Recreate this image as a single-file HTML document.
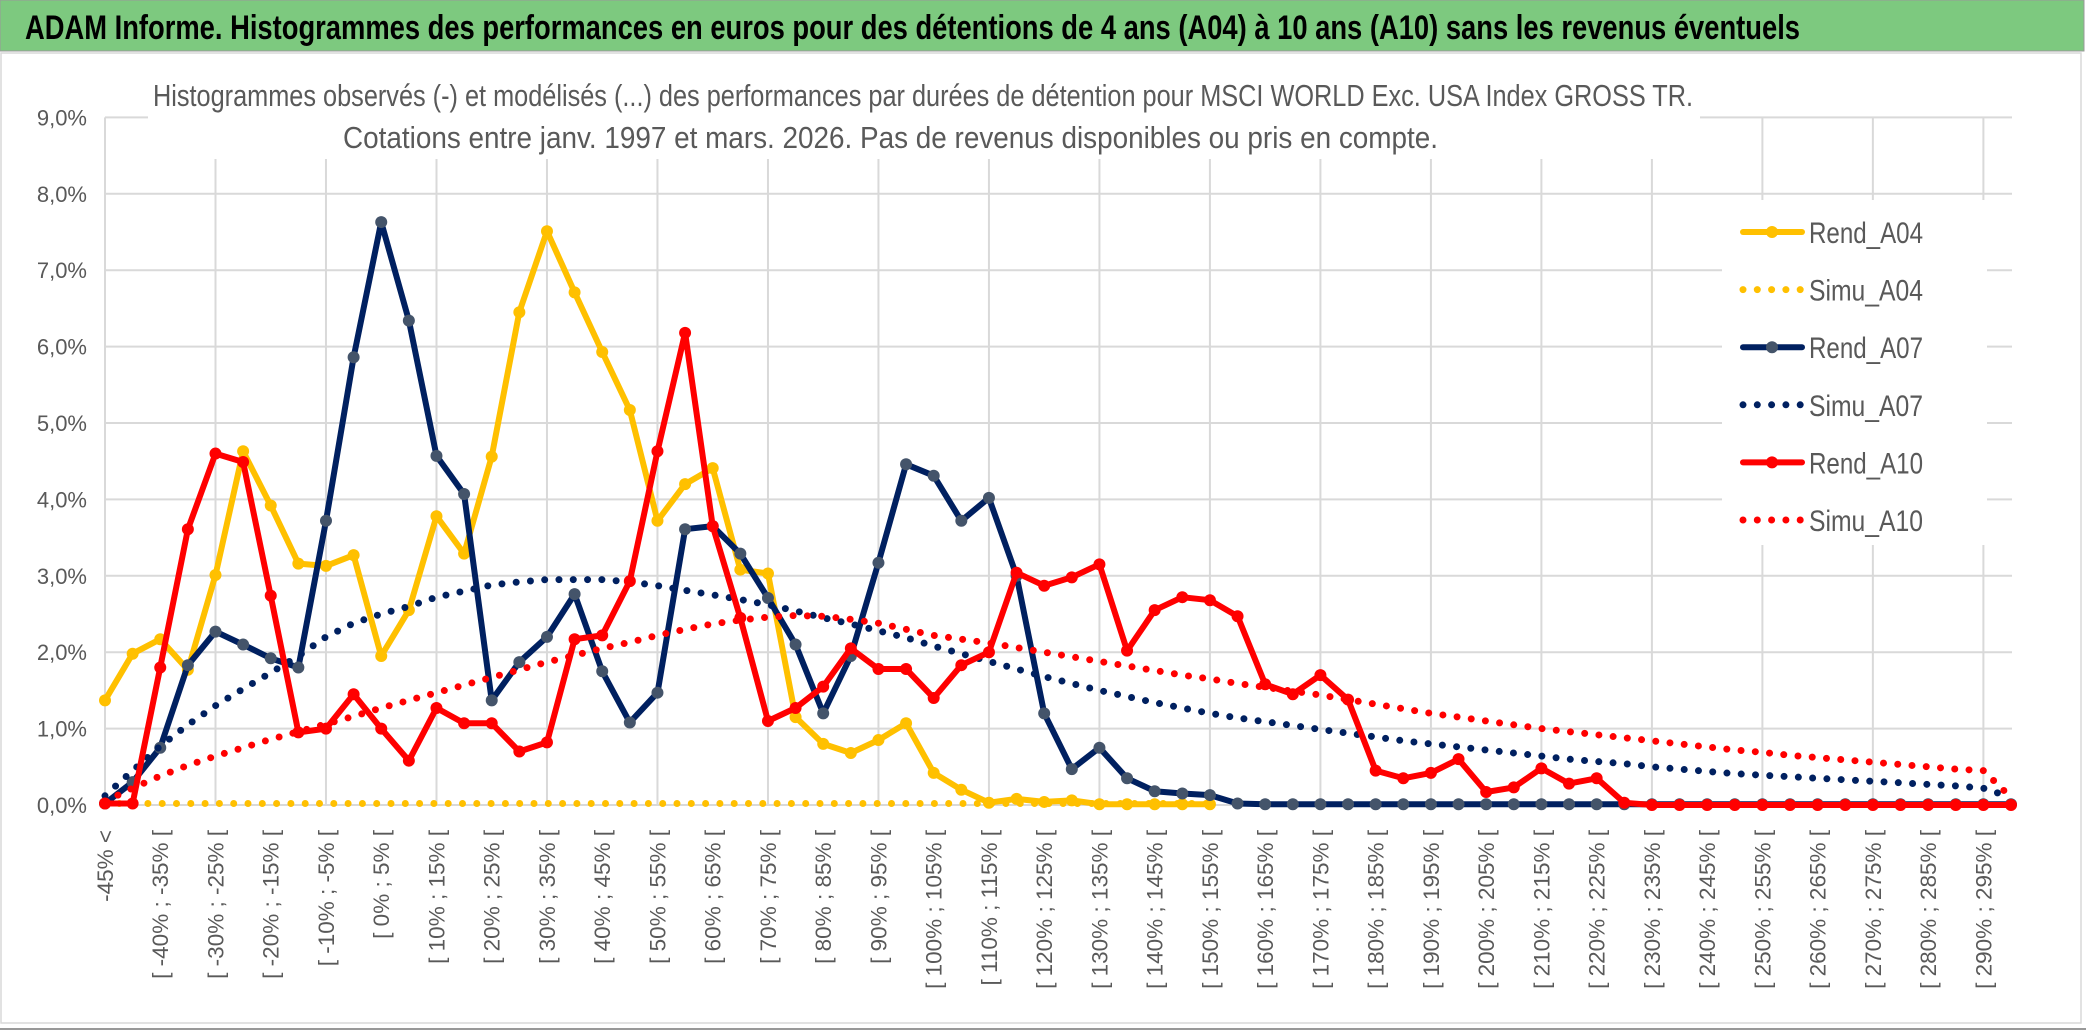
<!DOCTYPE html>
<html><head><meta charset="utf-8"><style>
html,body{margin:0;padding:0;background:#fff;width:2086px;height:1031px;overflow:hidden}
svg{display:block;font-family:"Liberation Sans",sans-serif}
</style></head><body>
<svg id="chart" width="2086" height="1031" viewBox="0 0 2086 1031" xmlns="http://www.w3.org/2000/svg">
<rect x="0" y="0" width="2086" height="1031" fill="#fff"/>
<rect x="0" y="0" width="2084" height="51" fill="#7dc97f" stroke="#999" stroke-width="1"/>
<text x="25" y="39" font-size="34" font-weight="bold" fill="#000" textLength="1775" lengthAdjust="spacingAndGlyphs">ADAM Informe. Histogrammes des performances en euros pour des détentions de 4 ans (A04) à 10 ans (A10) sans les revenus éventuels</text>
<rect x="1" y="53" width="2080" height="970" fill="none" stroke="#d9d9d9" stroke-width="1.5"/>
<line x1="0" y1="1029" x2="2086" y2="1029" stroke="#999" stroke-width="2"/>
<g id="grid"></g>
<rect x="148" y="60" width="1552" height="99" fill="#fff"/>
<text x="153" y="106" font-size="31" fill="#595959" textLength="1540" lengthAdjust="spacingAndGlyphs">Histogrammes observés (-) et modélisés (...) des performances par durées de détention pour MSCI WORLD Exc. USA Index GROSS TR.</text>
<text x="343" y="148" font-size="31" fill="#595959" textLength="1095" lengthAdjust="spacingAndGlyphs">Cotations entre janv. 1997 et mars. 2026. Pas de revenus disponibles ou pris en compte.</text>
<rect x="1722" y="200" width="265" height="345" fill="#fff"/>
<g id="yaxis"></g>
<g id="xaxis"></g>
<g id="series"></g>
<g id="legend"></g>
</svg>
<script>
const categories = [];
categories.push('-45% <');
for (let k = 1; k < 70; k++) { const a = -50 + 5 * k; categories.push('[ ' + a + '% ; ' + (a + 5) + '% ['); }
const yTicks = [0,1,2,3,4,5,6,7,8,9];
const yTickLabels = ['0,0%','1,0%','2,0%','3,0%','4,0%','5,0%','6,0%','7,0%','8,0%','9,0%'];
const rendA04 = [1.37,1.98,2.17,1.77,3.01,4.63,3.92,3.16,3.13,3.27,1.95,2.55,3.78,3.29,4.56,6.45,7.51,6.71,5.93,5.17,3.72,4.2,4.41,3.08,3.03,1.15,0.8,0.68,0.85,1.07,0.42,0.2,0.03,0.08,0.04,0.06,0.01,0.01,0.01,0.01,0.01];
const simuA04 = [0.02,0.02,0.02,0.02,0.02,0.02,0.02,0.02,0.02,0.02,0.02,0.02,0.02,0.02,0.02,0.02,0.02,0.02,0.02,0.02,0.02,0.02,0.02,0.02,0.02,0.02,0.02,0.02,0.02,0.02,0.02,0.02,0.02,0.02,0.02,0.02,0.02,0.02,0.02,0.02,0.02];
const rendA07 = [0.02,0.3,0.75,1.83,2.27,2.1,1.92,1.8,3.72,5.86,7.63,6.34,4.57,4.07,1.37,1.87,2.2,2.76,1.75,1.08,1.47,3.61,3.65,3.29,2.71,2.1,1.2,1.95,3.17,4.46,4.31,3.72,4.02,3.0,1.2,0.47,0.75,0.35,0.18,0.15,0.13,0.02,0.01,0.01,0.01,0.01,0.01,0.01,0.01,0.01,0.01,0.01,0.01,0.01,0.01,0.01,0.01,0.01,0.01,0.01,0.01,0.01,0.01,0.01,0.01,0.01,0.01,0.01,0.01,0.01];
const simuA07 = [0.12,0.45,0.77,1.05,1.3,1.52,1.73,1.95,2.2,2.38,2.5,2.6,2.72,2.8,2.88,2.92,2.95,2.95,2.95,2.92,2.87,2.81,2.75,2.69,2.62,2.54,2.45,2.37,2.28,2.19,2.08,1.98,1.88,1.78,1.68,1.59,1.5,1.42,1.34,1.27,1.2,1.14,1.09,1.04,0.99,0.94,0.89,0.84,0.8,0.76,0.72,0.68,0.64,0.6,0.57,0.54,0.5,0.47,0.44,0.41,0.39,0.37,0.35,0.33,0.31,0.29,0.27,0.25,0.22,0.1];
const rendA10 = [0.02,0.02,1.8,3.61,4.6,4.49,2.74,0.95,1.0,1.45,1.0,0.58,1.27,1.07,1.07,0.7,0.82,2.17,2.22,2.93,4.63,6.18,3.65,2.45,1.1,1.27,1.55,2.05,1.78,1.78,1.4,1.83,2.0,3.04,2.87,2.98,3.15,2.02,2.55,2.72,2.68,2.47,1.58,1.45,1.7,1.38,0.45,0.35,0.42,0.6,0.17,0.23,0.48,0.28,0.35,0.03,0,0,0,0,0,0,0,0,0,0,0,0,0,0];
const simuA10 = [0.05,0.22,0.38,0.52,0.64,0.75,0.86,0.96,1.06,1.16,1.27,1.37,1.47,1.57,1.67,1.77,1.87,1.96,2.05,2.13,2.22,2.3,2.37,2.42,2.46,2.48,2.47,2.43,2.38,2.3,2.22,2.17,2.12,2.06,2.0,1.94,1.88,1.82,1.76,1.7,1.65,1.59,1.54,1.49,1.44,1.38,1.32,1.26,1.2,1.15,1.1,1.05,1.0,0.96,0.92,0.88,0.84,0.8,0.76,0.72,0.69,0.65,0.62,0.59,0.56,0.53,0.5,0.47,0.45,0.1];

const NS = 'http://www.w3.org/2000/svg';
const X0 = 105, X1 = 2011, Y0 = 805, YPER = 76.4;
const xScale = i => X0 + i * (X1 - X0) / (categories.length - 1);
const yScale = v => Y0 - v * YPER;
function mk(tag, attrs, parent) { const e = document.createElementNS(NS, tag); for (const k in attrs) e.setAttribute(k, attrs[k]); parent.appendChild(e); return e; }

const grid = document.getElementById('grid');
yTicks.forEach(t => {
  const l = mk('line', {x1: X0, x2: 2012, y1: yScale(t), y2: yScale(t), stroke: '#d9d9d9', 'stroke-width': 2}, grid);
  
  
});
for (let i = 0; i < categories.length; i += 4) {
  const l = mk('line', {x1: xScale(i), x2: xScale(i), y1: yScale(9), y2: Y0, stroke: '#d9d9d9', 'stroke-width': 2}, grid);
  
  
}
const yaxis = document.getElementById('yaxis');
yTicks.forEach((t, k) => {
  const tx = mk('text', {x: 87, y: yScale(t) + 8, 'text-anchor': 'end', 'font-size': 22, fill: '#595959'}, yaxis);
  tx.textContent = yTickLabels[k];
  
  
});
const xaxis = document.getElementById('xaxis');
categories.forEach((c, i) => {
  if (i % 2) return;
  const x = xScale(i) + 8;
  const tx = mk('text', {x: x, y: 830, transform: 'rotate(-90 ' + x + ' 830)', 'text-anchor': 'end', 'font-size': 22.5, fill: '#595959'}, xaxis);
  tx.textContent = c;
  
  
});

const seriesG = document.getElementById('series');
function pathOf(vals) { return vals.map((v, i) => (i ? 'L' : 'M') + xScale(i).toFixed(1) + ' ' + yScale(v).toFixed(1)).join(' '); }
function solid(vals, color, mcolor, name) {
  const g = mk('g', {}, seriesG);
  
  
  mk('path', {d: pathOf(vals), fill: 'none', stroke: color, 'stroke-width': 6, 'stroke-linejoin': 'round', 'stroke-linecap': 'round'}, g);
  vals.forEach((v, i) => {
    const c = mk('circle', {cx: xScale(i), cy: yScale(v), r: 6, fill: mcolor}, g);
    
    
  });
}
function dotted(vals, color, name) {
  const p = mk('path', {d: pathOf(vals), fill: 'none', stroke: color, 'stroke-width': 7, 'stroke-dasharray': '0 14.3', 'stroke-linecap': 'round'}, seriesG);
  
  
}
solid(rendA04, '#ffc000', '#ffc000', 'rend-a04-line');
dotted(simuA04, '#ffc000', 'simu-a04-line');
solid(rendA07, '#002060', '#44546a', 'rend-a07-line');
dotted(simuA07, '#002060', 'simu-a07-line');
solid(rendA10, '#ff0000', '#ff0000', 'rend-a10-line');
dotted(simuA10, '#ff0000', 'simu-a10-line');

const legend = document.getElementById('legend');
const legNames = ['Rend_A04','Simu_A04','Rend_A07','Simu_A07','Rend_A10','Simu_A10'];
const legColors = ['#ffc000','#ffc000','#002060','#002060','#ff0000','#ff0000'];
const legMarkers = ['#ffc000',null,'#44546a',null,'#ff0000',null];
legNames.forEach((n, k) => {
  const y = 232 + k * 57.6;
  const g = mk('g', {}, legend);
  
  
  if (legMarkers[k]) {
    mk('line', {x1: 1743, x2: 1802, y1: y, y2: y, stroke: legColors[k], 'stroke-width': 6, 'stroke-linecap': 'round'}, g);
    mk('circle', {cx: 1772, cy: y, r: 6, fill: legMarkers[k]}, g);
  } else {
    mk('line', {x1: 1743, x2: 1802, y1: y, y2: y, stroke: legColors[k], 'stroke-width': 7, 'stroke-dasharray': '0 14.3', 'stroke-linecap': 'round'}, g);
  }
  const t = mk('text', {x: 1809, y: y + 11, 'font-size': 30, fill: '#595959', textLength: 114, lengthAdjust: 'spacingAndGlyphs'}, g);
  t.textContent = n;
});
</script>
</body></html>
